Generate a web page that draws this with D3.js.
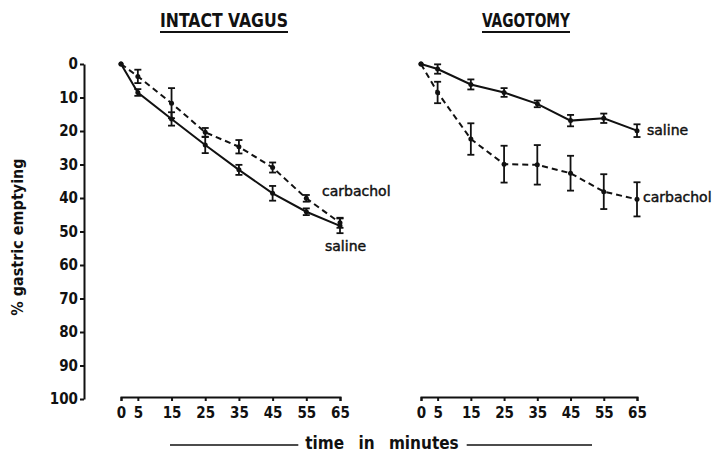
<!DOCTYPE html>
<html>
<head>
  <meta charset="UTF-8">
  <title>Gastric emptying</title>
  <script src="https://d3js.org/d3.v7.min.js"></script>
  <style>
    body { margin: 0; background: #fff; }
    svg text { font-family: 'DejaVu Sans Condensed', 'DejaVu Sans', sans-serif; font-weight: bold; fill: #111; }
    .axis path, .axis line { stroke: #111; stroke-width: 2; }
    .axis text { font-size: 15px; }
    .series-label { font-family: 'DejaVu Sans', sans-serif; font-weight: normal; stroke: #111; stroke-width: 0.45; }
  </style>
</head>
<body>
  <svg id="chart" width="712" height="452"></svg>

  <script>
    const times = [0, 5, 15, 25, 35, 45, 55, 65];
    const yTicks = [0, 10, 20, 30, 40, 50, 60, 70, 80, 90, 100];

    // intact vagus
    const intactSaline = [0, 8.5, 16.4, 24.2, 31.6, 38.6, 44.1, 48.3];
    const intactSalineErr = [0, 1, 2, 2.4, 1.5, 2.2, 1, 2.2];
    const intactCarbachol = [0, 3.7, 11.7, 20.4, 24.7, 30.9, 40.1, 47.4];
    const intactCarbacholErr = [0, 2, 4.5, 1.3, 2, 1.5, 1, 1.5];

    // vagotomy
    const vagSaline = [0, 1.5, 6.1, 8.5, 11.9, 16.9, 16.2, 19.9];
    const vagSalineErr = [0, 1.4, 1.5, 1.3, 1, 1.7, 1.4, 1.9];
    const vagCarbachol = [0, 8.5, 22.4, 29.9, 30.1, 32.6, 38.1, 40.4];
    const vagCarbacholErr = [0, 3.2, 4.7, 5.5, 5.9, 5.2, 5.2, 5.1];

    const svg = d3.select("#chart");

    const y = d3.scaleLinear().domain([0, 100]).range([64, 399]);
    const xLeft = d3.scaleLinear().domain([0, 65]).range([121, 340]);
    const xRight = d3.scaleLinear().domain([0, 65]).range([421, 637]);

    // y axis
    svg.append("g")
      .attr("class", "axis")
      .attr("transform", "translate(84,0)")
      .call(d3.axisLeft(y).tickValues(yTicks).tickSize(4).tickSizeOuter(0).tickPadding(2));

    svg.append("text")
      .attr("transform", "translate(23,237) rotate(-90)")
      .attr("text-anchor", "middle")
      .style("font-size", "16px")
      .text("% gastric emptying");

    function panel(x, title, salineVals, salineErr, carbVals, carbErr, labels) {
      svg.append("g")
        .attr("class", "axis")
        .attr("transform", "translate(0,397)")
        .call(d3.axisBottom(x).tickValues(times).tickSize(4).tickPadding(6));

      svg.append("text")
        .attr("x", title.cx - title.w / 2)
        .attr("y", 27)
        .attr("textLength", title.w)
        .attr("lengthAdjust", "spacingAndGlyphs")
        .style("font-size", "19px")
        .text(title.text);
      svg.append("line")
        .attr("x1", title.cx - title.w / 2).attr("x2", title.cx + title.w / 2)
        .attr("y1", 32).attr("y2", 32)
        .attr("stroke", "#111").attr("stroke-width", 2);

      const series = [
        { vals: salineVals, err: salineErr, dash: null },
        { vals: carbVals, err: carbErr, dash: "6,4" }
      ];

      series.forEach(s => {
        const pts = times.map((tm, i) => ({ t: tm, v: s.vals[i], e: s.err[i] }));
        const line = d3.line().x(d => x(d.t)).y(d => y(d.v));

        svg.append("path")
          .datum(pts)
          .attr("d", line)
          .attr("fill", "none")
          .attr("stroke", "#111")
          .attr("stroke-width", 2)
          .attr("stroke-dasharray", s.dash);

        const eb = svg.append("g").selectAll("g")
          .data(pts.filter(d => d.e > 0))
          .enter().append("g")
          .attr("stroke", "#111").attr("stroke-width", 1.8);
        eb.append("line")
          .attr("x1", d => x(d.t)).attr("x2", d => x(d.t))
          .attr("y1", d => y(d.v - d.e)).attr("y2", d => y(d.v + d.e));
        eb.append("line")
          .attr("x1", d => x(d.t) - 3.5).attr("x2", d => x(d.t) + 3.5)
          .attr("y1", d => y(d.v - d.e)).attr("y2", d => y(d.v - d.e));
        eb.append("line")
          .attr("x1", d => x(d.t) - 3.5).attr("x2", d => x(d.t) + 3.5)
          .attr("y1", d => y(d.v + d.e)).attr("y2", d => y(d.v + d.e));

        svg.append("g").selectAll("circle")
          .data(pts)
          .enter().append("circle")
          .attr("cx", d => x(d.t))
          .attr("cy", d => y(d.v))
          .attr("r", 2.5)
          .attr("fill", "#111");
      });

      labels.forEach(l => {
        svg.append("text")
          .attr("class", "series-label")
          .attr("x", x(65) + l.dx)
          .attr("y", y(l.v) + l.dy)
          .style("font-size", "14px")
          .text(l.text);
      });
    }

    panel(xLeft, { text: "INTACT VAGUS", cx: 224, w: 128 },
      intactSaline, intactSalineErr, intactCarbachol, intactCarbacholErr,
      [{ text: "carbachol", v: intactCarbachol[6], dx: -18, dy: -2 },
       { text: "saline", v: intactSaline[7], dx: -15, dy: 25 }]);

    panel(xRight, { text: "VAGOTOMY", cx: 526, w: 88 },
      vagSaline, vagSalineErr, vagCarbachol, vagCarbacholErr,
      [{ text: "saline", v: vagSaline[7], dx: 10, dy: 4 },
       { text: "carbachol", v: vagCarbachol[7], dx: 6, dy: 3 }]);

    // bottom label with flanking rules
    const bl = svg.append("text")
      .attr("x", 382)
      .attr("y", 449)
      .attr("text-anchor", "middle")
      .style("font-size", "17px")
      .style("word-spacing", "9px")
      .text("time in minutes");
    const bw = bl.node().getComputedTextLength();
    svg.append("line")
      .attr("x1", 170).attr("x2", 382 - bw / 2 - 7)
      .attr("y1", 445).attr("y2", 445)
      .attr("stroke", "#111").attr("stroke-width", 1.6);
    svg.append("line")
      .attr("x1", 382 + bw / 2 + 8).attr("x2", 592)
      .attr("y1", 445).attr("y2", 445)
      .attr("stroke", "#111").attr("stroke-width", 1.6);
  </script>
</body>
</html>
